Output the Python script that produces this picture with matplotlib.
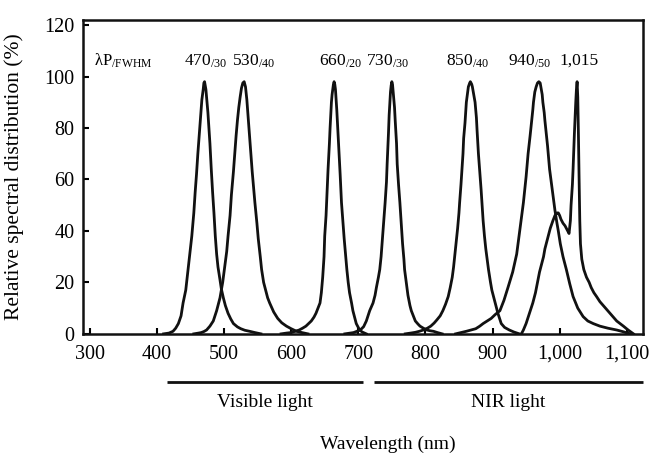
import matplotlib
matplotlib.use("Agg")
import matplotlib.pyplot as plt

plt.rcParams["font.family"] = ["Liberation Serif", "DejaVu Serif"]
plt.rcParams["mathtext.fontset"] = "custom"
plt.rcParams["mathtext.rm"] = "Liberation Serif"
plt.rcParams["mathtext.default"] = "rm"

# spectra: wavelength (nm) / relative intensity (%)
wl_470 = [410, 418, 424, 428, 432, 436, 439, 443, 446, 449, 452, 455, 457, 459, 461,
          463, 465, 467, 469, 470, 471, 473, 475, 476, 478, 479, 481, 483, 485, 487,
          489, 491, 494, 496, 499, 502, 506, 510, 514, 520, 525, 531, 538, 546, 555]
val_470 = [0, 0.3, 1, 2.2, 4, 7, 12, 17, 24, 31, 38, 47, 55, 62, 70,
           77, 84, 91, 95, 97.5, 98, 95, 89, 86, 78, 74, 64, 55, 47, 38,
           31, 26, 21, 17.5, 14, 11, 8, 5.8, 4, 2.7, 2, 1.4, 1, 0.5, 0]

wl_530 = [455, 462, 466, 470, 474, 479, 484, 489, 494, 498, 501, 504, 506, 509, 511,
          514, 516, 518, 520, 522, 524, 526, 528, 530, 532, 534, 536, 538, 540, 542,
          544, 546, 549, 551, 554, 556, 559, 562, 565, 568, 574, 580, 586, 593, 600,
          608, 616, 625]
val_530 = [0, 0.3, 0.5, 0.9, 1.5, 3, 5, 9, 14, 20, 26, 32, 38, 46, 54,
           63, 70, 77, 83, 88, 92, 95.5, 97.5, 98, 96, 91, 84, 77, 70, 63,
           57, 51, 43, 37, 30, 25, 20, 17, 14, 12, 8.5, 6, 4.3, 3, 2,
           1, 0.5, 0]

wl_660 = [585, 593, 600, 606, 612, 617, 622, 626, 630, 634, 637, 640, 643, 645, 647,
          649, 650, 652, 653, 655, 657, 658, 660, 661, 662, 663, 664, 665, 666, 667,
          668, 670, 672, 673, 675, 677, 679, 681, 683, 685, 687, 690, 692, 695, 697,
          700, 702, 706, 712]
val_660 = [0, 0.3, 0.5, 1, 1.5, 2.2, 3, 4, 5, 6.5, 8, 10, 12, 16, 22,
           30, 38, 46, 52, 64, 74, 80, 90, 93, 95, 97, 98, 97, 95, 91,
           87, 77, 67, 62, 51, 44, 37, 31, 25, 20, 16, 12, 9, 6, 4,
           2.5, 1.5, 0.7, 0]

wl_730 = [680, 688, 693, 698, 703, 708, 712, 717, 722, 725, 727, 730, 732, 734, 736,
          738, 740, 742, 743, 745, 746, 748, 749, 750, 751, 752, 754, 755, 757, 758,
          760, 762, 764, 766, 768, 769, 772, 774, 777, 779, 782, 785, 789, 792, 797,
          802, 807, 812, 818, 825]
val_730 = [0, 0.3, 0.5, 1, 1.5, 2.8, 5, 9, 12, 15, 18, 22, 25, 30, 37,
           44, 51, 59, 66, 78, 85, 94, 96.5, 98, 97, 94, 88, 83, 74, 66,
           58, 51, 43, 35, 29, 25, 19, 15, 11, 9, 7, 5, 3.8, 3, 2.2,
           1.5, 1.2, 1, 0.5, 0]

wl_850 = [770, 778, 785, 791, 797, 803, 808, 813, 817, 822, 826, 830, 834, 837, 840,
          842, 844, 846, 848, 850, 851, 853, 854, 856, 857, 859, 861, 863, 864, 866,
          867, 869, 870, 872, 874, 876, 877, 879, 881, 883, 886, 888, 890, 892, 894,
          897, 899, 902, 904, 908, 913, 918, 925, 932, 940]
val_850 = [0, 0.3, 0.6, 1, 1.5, 2.2, 3, 4.2, 5.4, 7, 9, 11.5, 14.5, 18, 22,
           26, 31, 36, 41, 47, 51, 58, 62, 70, 76, 82, 90, 94, 96, 97.5,
           98, 97, 96, 93, 90, 84, 79, 70, 63, 56, 44, 38, 33, 29, 25,
           20, 17, 14, 12, 8, 4, 2.5, 1.5, 0.7, 0]

wl_940 = [845, 853, 861, 868, 875, 881, 886, 892, 898, 904, 911, 917, 923, 930, 936,
          941, 946, 950, 953, 956, 958, 960, 961, 963, 965, 967, 969, 971, 972, 974,
          975, 977, 978, 982, 985, 989, 993, 996, 998, 1001, 1005, 1008, 1010, 1015, 1020,
          1027, 1035, 1042, 1050, 1060, 1072, 1085, 1095, 1105]
val_940 = [0, 0.5, 1, 1.5, 2, 3, 4, 5, 6, 7.5, 9, 13, 18, 24, 31,
           41, 51, 61, 70, 77, 82, 87, 90, 94, 96, 97.5, 98, 97.5, 96, 93,
           90, 86, 83, 73, 64, 56, 48, 43, 40, 35, 30, 27, 25, 19.5, 14.5,
           10, 6.7, 5, 4, 3, 2.2, 1.5, 0.8, 0]

wl_1015 = [943, 946, 950, 955, 960, 964, 967, 970, 973, 976, 978, 981, 983, 986, 990,
           993, 996, 998, 1000, 1002, 1005, 1008, 1010, 1012, 1014, 1016, 1017, 1019, 1020,
           1021, 1022, 1023, 1024, 1025, 1026, 1027, 1028, 1029, 1030, 1031, 1033, 1036,
           1040, 1044, 1047, 1051, 1055, 1060, 1065, 1070, 1075, 1080, 1085, 1090, 1095,
           1102, 1110]
val_1015 = [0, 1.5, 4, 8, 12, 16, 20, 24, 27, 30, 33, 36, 38, 41, 44,
            46, 47, 47, 46, 44.5, 43, 42, 41, 40, 39, 44, 50, 58, 64,
            71, 78, 84, 90, 95, 98, 92, 77, 60, 44, 35, 29, 25,
            22, 20, 18, 16, 14.5, 12.5, 11, 9.5, 8, 6.5, 5, 4, 3,
            1.5, 0]

spectra = [(wl_470, val_470), (wl_530, val_530), (wl_660, val_660), (wl_730, val_730),
           (wl_850, val_850), (wl_940, val_940), (wl_1015, val_1015)]

# peak labels (peak / FWHM) and where they sit
peak_labels = ["470$_{/30}$", "530$_{/40}$", "660$_{/20}$", "730$_{/30}$",
               "850$_{/40}$", "940$_{/50}$", "1,015"]
peak_label_x = [472, 544, 674, 744, 863, 955, 1029]
label_y = 106

# light bands under the axis
band_names = ["Visible light", "NIR light"]
band_start = [415, 723]
band_end = [707, 1124]

x_ticks = [300, 400, 500, 600, 700, 800, 900, 1000, 1100]
x_ticklabels = ["300", "400", "500", "600", "700", "800", "900", "1,000", "1,100"]
y_ticks = [0, 20, 40, 60, 80, 100, 120]

fig = plt.figure(figsize=(6.54, 4.53), dpi=100)
ax = fig.add_axes([0.127, 0.263, 0.856, 0.693])

for wl, val in spectra:
    ax.plot(wl, val, color="#111111", lw=2.0, solid_joinstyle="round")

ax.text(307, label_y, r"λP$_{/\mathrm{FWHM}}$", fontsize=12, ha="left", va="center")
for lab, x in zip(peak_labels, peak_label_x):
    ax.text(x, label_y, lab, fontsize=12.5, ha="center", va="center")

trans = ax.get_xaxis_transform()
for name, x0, x1 in zip(band_names, band_start, band_end):
    ax.plot([x0, x1], [-0.153, -0.153], color="#111111", lw=2.0,
            transform=trans, clip_on=False, solid_capstyle="butt")
    ax.text((x0 + x1) / 2, -0.22, name, transform=trans, ha="center", va="center",
            fontsize=14)

ax.set_xlim(290, 1124)
ax.set_ylim(0, 122)
ax.set_xticks(x_ticks)
ax.set_xticklabels(x_ticklabels)
ax.set_yticks(y_ticks)
ax.tick_params(axis="both", direction="in", length=4, width=1.5, labelsize=14.5)
ax.tick_params(axis="x", pad=8)
ax.tick_params(axis="y", pad=6)
for sp in ax.spines.values():
    sp.set_linewidth(1.8)
    sp.set_color("#111111")

ax.set_ylabel("Relative spectral distribution (%)", fontsize=15.5)
ax.yaxis.set_label_coords(-0.105, 0.5)
ax.set_xlabel("Wavelength (nm)", fontsize=14)
ax.xaxis.set_label_coords(0.545, -0.325)

fig.savefig("out.png", dpi=100)
